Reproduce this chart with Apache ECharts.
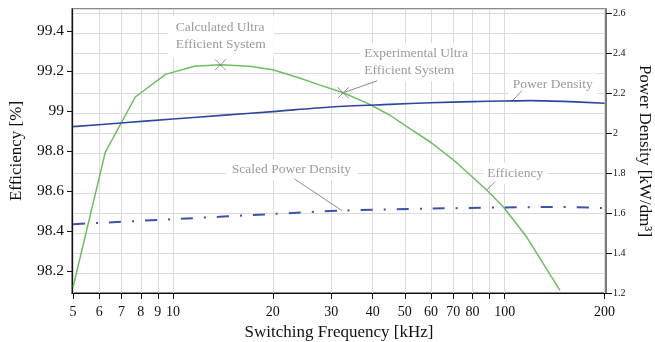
<!DOCTYPE html>
<html><head><meta charset="utf-8">
<script src="https://cdn.jsdelivr.net/npm/echarts@6.0.0/dist/echarts.min.js"></script>
<style>html,body{margin:0;padding:0;background:#fff}#c{width:655px;height:342px}</style>
</head><body><div id="c"></div><script>
const FONT = "'Liberation Serif','Times New Roman',serif";

// tick values
const xTicks = [5,6,7,8,9,10,20,30,40,50,60,70,80,90,100,200];
const xLabels = [5,6,7,8,9,10,20,30,40,50,60,70,80,100,200];
const effTicks = [98.2,98.4,98.6,98.8,99,99.2,99.4];
const pdTicks = [1.2,1.4,1.6,1.8,2,2.2,2.4,2.6];

// Efficiency [%] vs switching frequency [kHz]
const effFreq   = [5, 6.25, 7.7, 9.5, 11.6, 13.9, 17, 20, 24.2, 27.5, 32.6, 38.8, 45, 50.6, 60.3, 70, 88.3, 99, 116.4, 146.8];
const effValues = [98.12, 98.793, 99.07, 99.183, 99.224, 99.231, 99.224, 99.206, 99.164, 99.132, 99.091, 99.037, 98.98, 98.923, 98.84, 98.756, 98.605, 98.521, 98.371, 98.103];

// Power density [kW/dm3]
const pdFreq   = [5, 7.1, 10, 14, 20, 30, 45, 60, 80, 100, 120, 150, 200];
const pdValues = [2.032, 2.051, 2.070, 2.088, 2.107, 2.130, 2.143, 2.151, 2.157, 2.160, 2.162, 2.158, 2.149];

// Scaled power density [kW/dm3]
const spdFreq   = [5, 10, 20, 32.3, 60, 100, 140, 200];
const spdValues = [1.544, 1.569, 1.595, 1.612, 1.622, 1.628, 1.630, 1.625];

// design points (crosses)
const markFreq = [13.9, 32.6];
const markVal  = [99.231, 99.091];

// annotations: anchor in data space
const annText = ['Calculated Ultra\nEfficient System', 'Experimental Ultra\nEfficient System', 'Power Density', 'Scaled Power Density', 'Efficiency'];
const annFreq = [13.9, 32.6, 105.5, 32.3, 88.3];
const annVal  = [99.231, 99.091, 2.161, 1.612, 98.605];
const annAxis = [0, 0, 1, 1, 0];

const lg = Math.log10;
const zip = (fs, vs) => fs.map((f, i) => [lg(f), vs[i]]);

const xMin = lg(5) - 1.1/331.7, xMax = xMin + 534/331.7;

const chart = echarts.init(document.getElementById('c'), null, {renderer: 'canvas'});
const fmt1 = v => String(Number(v.toFixed(1)));

chart.setOption({
  animation: false,
  backgroundColor: '#fff',
  textStyle: {fontFamily: FONT},
  grid: {left: 72, right: 49, top: 9, bottom: 49, show: true, borderColor: '#666', borderWidth: 1.5, containLabel: false, outerBoundsMode: 'none'},
  xAxis: {
    type: 'value', min: xMin, max: xMax,
    name: 'Switching Frequency [kHz]', nameLocation: 'middle', nameGap: 27,
    nameTextStyle: {fontFamily: FONT, fontSize: 17, color: '#111'},
    axisLine: {lineStyle: {color: '#111', width: 1}},
    axisTick: {show: true, length: 6, customValues: xTicks.map(lg), lineStyle: {color: '#111'}},
    axisLabel: {customValues: xLabels.map(lg), formatter: v => String(Math.round(Math.pow(10, v))), fontFamily: FONT, fontSize: 14, color: '#111', margin: 12},
    splitLine: {show: true, lineStyle: {color: '#dadada', width: 1}}
  },
  yAxis: [
    {
      type: 'value', position: 'left', min: 98.09, max: 99.51,
      name: 'Efficiency [%]', nameLocation: 'middle', nameGap: 47,
      nameTextStyle: {fontFamily: FONT, fontSize: 17, color: '#111'},
      axisLine: {show: true, lineStyle: {color: '#111', width: 1}},
      axisTick: {show: true, length: 5, customValues: effTicks, lineStyle: {color: '#111'}},
      axisLabel: {customValues: effTicks, formatter: fmt1, fontFamily: FONT, fontSize: 15.5, color: '#111', margin: 8},
      splitLine: {show: false}
    },
    {
      type: 'value', position: 'right', min: 1.2, max: 2.62,
      name: 'Power Density [kW/dm³]', nameLocation: 'middle', nameGap: 28, nameRotate: -90,
      nameTextStyle: {fontFamily: FONT, fontSize: 17, color: '#111'},
      axisLine: {show: true, lineStyle: {color: '#777', width: 1.5}},
      axisTick: {show: true, length: 6, customValues: pdTicks, lineStyle: {color: '#111'}},
      axisLabel: {customValues: pdTicks, formatter: fmt1, fontFamily: FONT, fontSize: 10, color: '#111', margin: 7},
      splitLine: {show: false}
    },
    {
      type: 'value', position: 'right', min: 1.2, max: 2.62, interval: 0.1,
      axisLine: {show: false}, axisTick: {show: false}, axisLabel: {show: false},
      splitLine: {show: true, lineStyle: {color: '#dadada', width: 1}}
    }
  ],
  series: [
    {name: 'Efficiency', type: 'line', yAxisIndex: 0, data: zip(effFreq, effValues), showSymbol: false, symbol: 'none',
     lineStyle: {color: '#6cbf5f', width: 1.5}, z: 3},
    {name: 'Power Density', type: 'line', yAxisIndex: 1, data: zip(pdFreq, pdValues), showSymbol: false, symbol: 'none', smooth: 0.3,
     lineStyle: {color: '#2d479f', width: 1.6}, z: 3},
    {name: 'Scaled Power Density', type: 'line', yAxisIndex: 1, data: zip(spdFreq, spdValues), showSymbol: false, symbol: 'none', smooth: 0.3,
     lineStyle: {color: '#3853a8', width: 2, type: [12, 11, 2, 11]}, z: 3},
    {name: 'Design points', type: 'scatter', yAxisIndex: 0, data: zip(markFreq, markVal),
     symbol: 'path://M0,0L10,10M10,0L0,10', symbolSize: 11,
     itemStyle: {color: 'rgba(0,0,0,0)', borderColor: '#777', borderWidth: 1}, z: 4}
  ]
});

// annotation layout (pixel offsets from anchors)
const textOff = [[-44.7, -45.5], [21, -47.5], [0.4, -25.2], [-110, -49.5], [0.6, -25.2]];
const leadOff = [null, [34, -12], [9.4, -10], [-47.4, -31.7], [8.3, -8.3]];
const pads = [[3, 8, 4, 8], [2, 4, 2, 4], [2, 4, 2, 4], [2, 6, 2, 6], [2, 4, 2, 4]];
const g = [];
annText.forEach((t, i) => {
  const p = chart.convertToPixel({xAxisIndex: 0, yAxisIndex: annAxis[i]}, [lg(annFreq[i]), annVal[i]]);
  const pd = pads[i];
  g.push({type: 'text', z: 1, x: p[0] + textOff[i][0] - pd[3], y: p[1] + textOff[i][1] - pd[0],
    style: {text: t, fill: '#9a9a9a', font: '13.5px ' + FONT, lineHeight: 17, align: 'left', verticalAlign: 'top',
      backgroundColor: '#fff', padding: pd}});
  if (leadOff[i]) {
    g.push({type: 'line', z: 1, shape: {x1: p[0] + leadOff[i][0], y1: p[1] + leadOff[i][1], x2: p[0], y2: p[1]},
      style: {stroke: '#8a8a8a', lineWidth: 1}});
  }
});
chart.setOption({graphic: g});
</script></body></html>
